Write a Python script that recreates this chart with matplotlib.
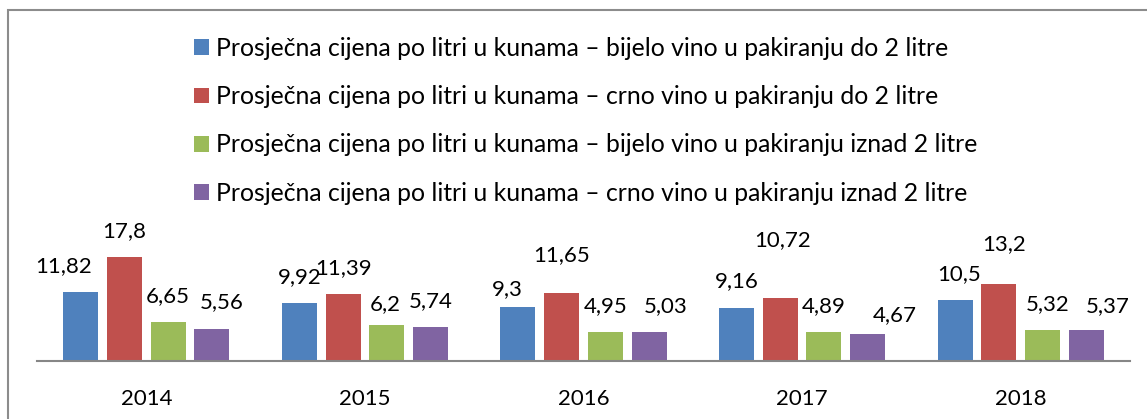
import numpy as np
import matplotlib
matplotlib.use("Agg")
import matplotlib.pyplot as plt
from matplotlib.patches import Rectangle

# chart data
years = ["2014", "2015", "2016", "2017", "2018"]
series_names = [
    "Prosječna cijena po litri u kunama – bijelo vino u pakiranju do 2 litre",
    "Prosječna cijena po litri u kunama – crno vino u pakiranju do 2 litre",
    "Prosječna cijena po litri u kunama – bijelo vino u pakiranju iznad 2 litre",
    "Prosječna cijena po litri u kunama – crno vino u pakiranju iznad 2 litre",
]
white_small = [11.82, 9.92, 9.3, 9.16, 10.5]
red_small = [17.8, 11.39, 11.65, 10.72, 13.2]
white_big = [6.65, 6.2, 4.95, 4.89, 5.32]
red_big = [5.56, 5.74, 5.03, 4.67, 5.37]

colors = ["#4F81BD", "#C0504D", "#9BBB59", "#8064A2"]

# label nudges in pixels (dx, dy) - excel moved some labels around
nudges = {
    (0, 0): (-17, 0), (3, 0): (10, 0),
    (2, 1): (-2, -5),
    (0, 2): (-11, -8), (1, 2): (0, 12), (3, 2): (17, 0),
    (1, 3): (2, 32), (3, 3): (27, -7),
    (0, 4): (4, 0), (1, 4): (5, 14), (2, 4): (5, 0), (3, 4): (21, -2),
}

plt.rcParams['font.family'] = ['Lato', 'DejaVu Sans']

W, H = 1147, 419
fig = plt.figure(figsize=(W / 100, H / 100), dpi=100)
ax = fig.add_axes([37 / W, 58 / H, 1093 / W, 116.8 / H])

x = np.arange(len(years))
width = 0.16
step = 0.2
handles = []
for j, vals in enumerate([white_small, red_small, white_big, red_big]):
    pos = x + (j - 1.5) * step
    b = ax.bar(pos, vals, width, color=colors[j], label=series_names[j])
    handles.append(b)
    for i, v in enumerate(vals):
        dx, dy = nudges.get((j, i), (0, 0))
        ax.annotate(str(v).replace(".", ","), (pos[i], v),
                    xytext=(dx * 0.72, (26 + dy) * 0.72), textcoords="offset points",
                    ha="center", va="center", fontsize=16, color="black")

ax.set_xlim(-0.5, len(years) - 0.5)
ax.set_ylim(0, 20)
ax.set_xticks(x)
ax.set_xticklabels(years, fontsize=16)
ax.set_yticks([])
ax.tick_params(axis="x", length=0, pad=20)
for s in ["top", "right", "left"]:
    ax.spines[s].set_visible(False)
ax.spines["bottom"].set_color("#868686")
ax.spines["bottom"].set_linewidth(1.5)

fig.legend(handles=handles, loc="upper left", bbox_to_anchor=(194 / W, 1 - 37 / H),
           frameon=False, fontsize=17.8, handlelength=0.61, handleheight=0.61,
           handletextpad=0.28, labelspacing=1.02, borderpad=0, borderaxespad=0)

# outer frame (cropped on the right and bottom)
fig.add_artist(Rectangle((8 / W, -0.2), 1.5, 1.2 - 10 / H, transform=fig.transFigure,
                         fill=False, edgecolor="#8C8C8C", linewidth=1.5))

fig.savefig("out.png", dpi=100)
